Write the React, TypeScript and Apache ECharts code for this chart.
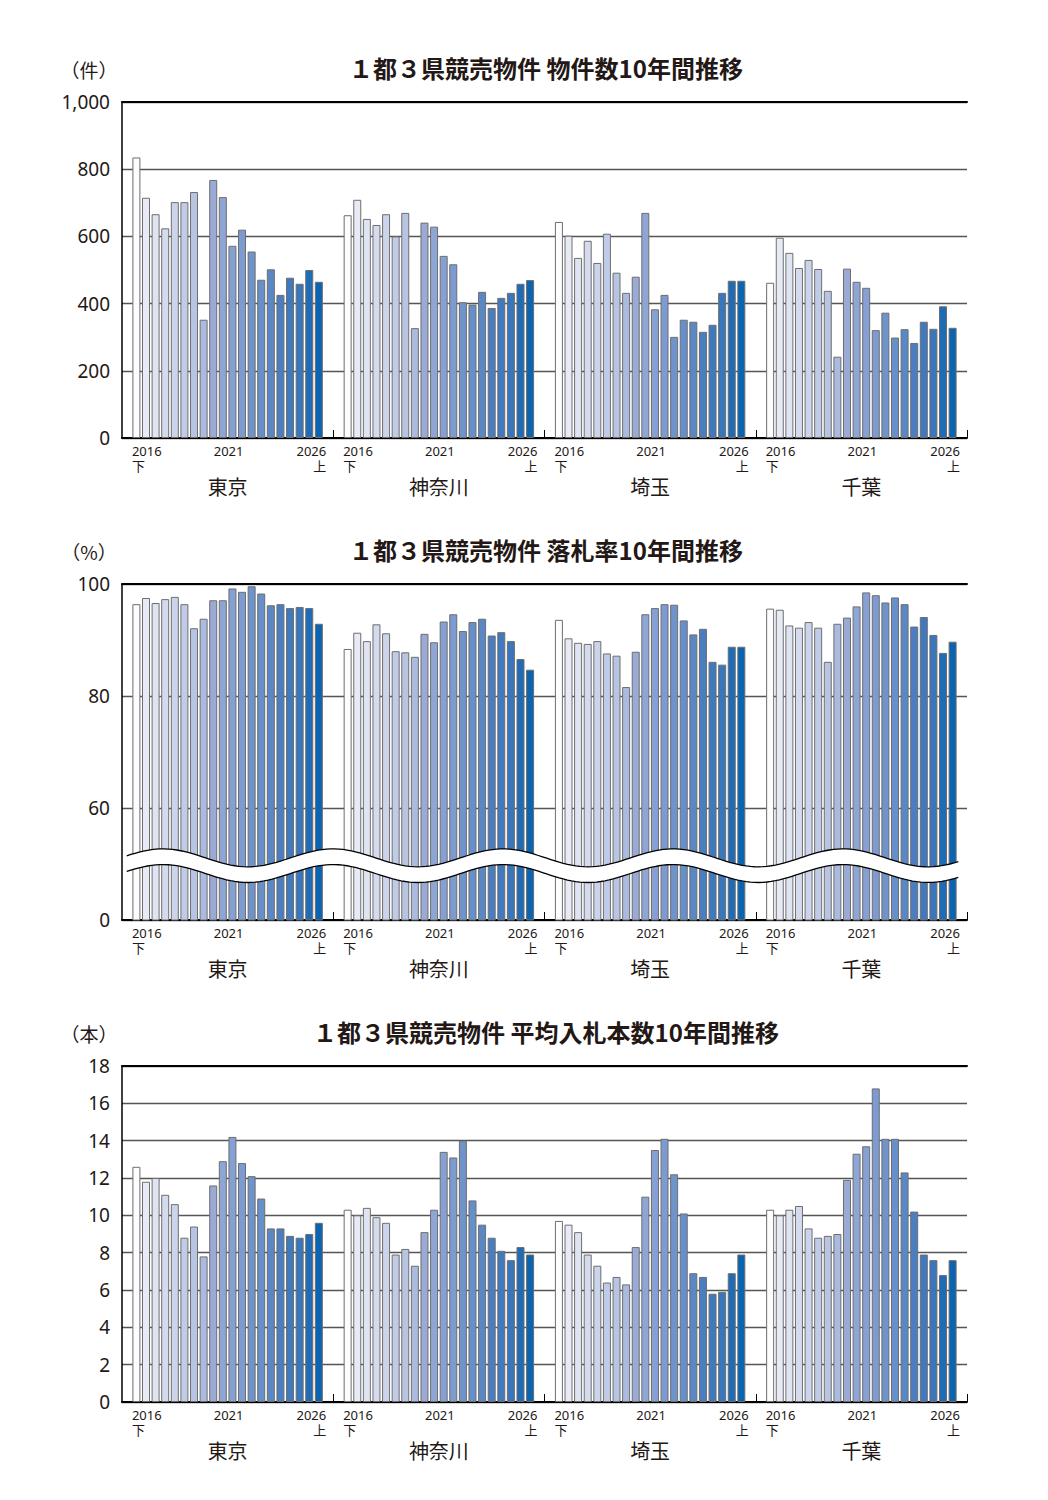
import React, { useEffect, useRef } from "react";
import * as echarts from "echarts";

const periods = [
  "2016下", "2017上", "2017下", "2018上", "2018下", "2019上", "2019下",
  "2020上", "2020下", "2021上", "2021下", "2022上", "2022下", "2023上",
  "2023下", "2024上", "2024下", "2025上", "2025下", "2026上",
];
const prefectures = ["東京", "神奈川", "埼玉", "千葉"];

// 物件数（件）
const tokyoCount = [835, 715, 666, 624, 702, 702, 732, 352, 768, 717, 572, 620, 555, 471, 502, 426, 477, 459, 500, 465];
const kanagawaCount = [663, 709, 652, 634, 666, 600, 670, 327, 641, 629, 542, 517, 404, 397, 435, 387, 417, 432, 459, 470];
const saitamaCount = [643, 602, 536, 587, 521, 608, 492, 432, 480, 670, 383, 426, 301, 352, 346, 316, 337, 432, 468, 468];
const chibaCount = [462, 596, 551, 506, 530, 503, 438, 242, 504, 465, 447, 321, 373, 299, 324, 283, 346, 325, 392, 328];

// 落札率（%）
const tokyoRate = [96.4, 97.5, 96.6, 97.3, 97.7, 96.4, 92.1, 93.8, 97.1, 97.1, 99.2, 98.6, 99.6, 98.3, 96.2, 96.4, 95.7, 95.9, 95.7, 92.9];
const kanagawaRate = [88.4, 91.3, 89.8, 92.8, 91.2, 88.0, 87.8, 87.0, 91.1, 89.6, 93.3, 94.6, 91.6, 93.2, 93.8, 90.8, 91.4, 89.8, 86.6, 84.7];
const saitamaRate = [93.6, 90.3, 89.5, 89.3, 89.8, 87.6, 87.2, 81.6, 87.9, 94.6, 95.7, 96.4, 96.3, 93.5, 91.0, 92.0, 86.1, 85.6, 88.8, 88.8];
const chibaRate = [95.6, 95.4, 92.6, 92.2, 93.2, 92.2, 86.1, 92.9, 94.0, 96.0, 98.5, 98.0, 96.7, 97.6, 96.4, 92.4, 94.1, 90.9, 87.7, 89.7];

// 平均入札本数（本）
const tokyoBids = [12.6, 11.8, 12.0, 11.1, 10.6, 8.8, 9.4, 7.8, 11.6, 12.9, 14.2, 12.8, 12.1, 10.9, 9.3, 9.3, 8.9, 8.8, 9.0, 9.6];
const kanagawaBids = [10.3, 10.0, 10.4, 9.9, 9.6, 7.9, 8.2, 7.3, 9.1, 10.3, 13.4, 13.1, 14.0, 10.8, 9.5, 8.8, 8.1, 7.6, 8.3, 7.9];
const saitamaBids = [9.7, 9.5, 9.1, 7.9, 7.3, 6.4, 6.7, 6.3, 8.3, 11.0, 13.5, 14.1, 12.2, 10.1, 6.9, 6.7, 5.8, 5.9, 6.9, 7.9];
const chibaBids = [10.3, 10.0, 10.3, 10.5, 9.3, 8.8, 8.9, 9.0, 11.9, 13.3, 13.7, 16.8, 14.1, 14.1, 12.3, 10.2, 7.9, 7.6, 6.8, 7.6];

// year tick labels under each prefecture group
const yearLabels = ["2016\n下", "2021", "2026\n上"];
const yearLabelAlign = ["l", "c", "r"];
const yearLabelSlot = [2.7, 11.1, 19.6];

const barColors = [
  "#fdfcfe", "#e8ebf6", "#dfe4f2", "#d4dbee", "#cbd4eb", "#c0cce7", "#b7c5e3",
  "#aabbdf", "#9aaad5", "#8ea6d6", "#86a0d3", "#7d9bd0", "#6f93cb", "#6590c9",
  "#5a88c5", "#4a7ec0", "#4079bd", "#3a76bb", "#1f6bb5", "#0b64b0",
];

const charts = [
  {
    title: "１都３県競売物件 物件数10年間推移",
    unit: "（件）",
    groups: [tokyoCount, kanagawaCount, saitamaCount, chibaCount],
    min: 0, max: 1000, interval: 200,
    top: 102,
  },
  {
    title: "１都３県競売物件 落札率10年間推移",
    unit: "（%）",
    groups: [tokyoRate, kanagawaRate, saitamaRate, chibaRate],
    min: 40, max: 100, interval: 20,
    top: 584,
  },
  {
    title: "１都３県競売物件 平均入札本数10年間推移",
    unit: "（本）",
    groups: [tokyoBids, kanagawaBids, saitamaBids, chibaBids],
    min: 0, max: 18, interval: 2,
    top: 1066,
  },
];

const SLOTS = 22; // 20 bars + one empty slot each side
const TOTAL = SLOTS * prefectures.length;
const TEXT = "#231815";
const FONT = "'Noto Sans', 'Noto Sans CJK JP', sans-serif";

const App: React.FC = () => {
  const chartRef = useRef<HTMLDivElement>(null);

  useEffect(() => {
    document.body.style.margin = "0";
    if (!chartRef.current) return;
    const chart = echarts.init(chartRef.current, undefined, { renderer: "svg" });

    const slotNames = Array.from({ length: TOTAL }, (_, i) => {
      const k = (i % SLOTS) - 1;
      return k >= 0 && k < periods.length
        ? prefectures[Math.floor(i / SLOTS)] + periods[k]
        : "gap" + i;
    });

    const yearMap = new Map<string, string>();
    const yearValues: number[] = [];
    prefectures.forEach((_, g) => {
      yearLabelSlot.forEach((s, j) => {
        const v = g * SLOTS + s;
        yearValues.push(v);
        const a = yearLabelAlign[j];
        yearMap.set(
          v.toFixed(2),
          yearLabels[j].split("\n").map((t) => `{${a}|${t}}`).join("\n")
        );
      });
    });

    const grids: any[] = [];
    const xAxes: any[] = [];
    const yAxes: any[] = [];
    const series: any[] = [];
    const titles: any[] = [];

    charts.forEach((c, i) => {
      grids.push({ left: 122, right: 81, top: c.top, height: 336 });
      titles.push({
        text: c.title,
        left: 546,
        top: c.top - 48,
        textAlign: "center",
        padding: 0,
        textStyle: {
          fontSize: 24,
          lineHeight: 26,
          fontWeight: "bold",
          color: TEXT,
          fontFamily: "'Noto Sans CJK JP', sans-serif",
        },
      });
      titles.push({
        text: c.unit,
        left: 89,
        top: c.top - 44,
        textAlign: "center",
        padding: 0,
        textStyle: {
          fontSize: 19,
          lineHeight: 22,
          fontWeight: "normal",
          color: TEXT,
          fontFamily: "'Noto Sans CJK JP', sans-serif",
        },
      });

      // bars
      xAxes.push({
        type: "category",
        gridIndex: i,
        data: slotNames,
        axisLine: { lineStyle: { color: "#000", width: 2 } },
        axisTick: { show: false },
        axisLabel: { show: false },
      });
      // year labels
      xAxes.push({
        type: "value",
        gridIndex: i,
        min: 0,
        max: TOTAL,
        position: "bottom",
        axisLine: { show: false },
        axisTick: { show: false },
        splitLine: { show: false },
        axisLabel: {
          customValues: yearValues,
          margin: 5,
          formatter: (v: number) => yearMap.get(v.toFixed(2)) || "",
          rich: {
            l: { width: 32, align: "left", fontSize: 13, lineHeight: 15, color: TEXT, fontFamily: FONT },
            c: { width: 32, align: "center", fontSize: 13, lineHeight: 15, color: TEXT, fontFamily: FONT },
            r: { width: 32, align: "right", fontSize: 13, lineHeight: 15, color: TEXT, fontFamily: FONT },
          },
        },
      });
      // prefecture names and group ticks
      xAxes.push({
        type: "value",
        gridIndex: i,
        min: 0,
        max: TOTAL,
        position: "bottom",
        axisLine: { show: false },
        splitLine: { show: false },
        axisTick: {
          show: true,
          inside: true,
          length: 8,
          customValues: prefectures.map((_, g) => (g + 1) * SLOTS),
          lineStyle: { color: "#000", width: 1 },
        },
        axisLabel: {
          customValues: prefectures.map((_, g) => g * SLOTS + SLOTS / 2),
          margin: 38,
          fontSize: 20,
          lineHeight: 20,
          color: TEXT,
          fontFamily: "'Noto Sans CJK JP', sans-serif",
          formatter: (v: number) => prefectures[Math.round((v - SLOTS / 2) / SLOTS)] || "",
        },
      });
      // top frame line
      xAxes.push({
        type: "value",
        gridIndex: i,
        min: 0,
        max: TOTAL,
        position: "top",
        axisLine: { show: true, lineStyle: { color: "#000", width: 2 } },
        axisTick: { show: false },
        axisLabel: { show: false },
        splitLine: { show: false },
      });

      yAxes.push({
        type: "value",
        gridIndex: i,
        min: c.min,
        max: c.max,
        interval: c.interval,
        axisLine: { show: true, lineStyle: { color: "#000", width: 1.5 } },
        axisTick: { show: false },
        splitLine: { lineStyle: { color: "#555", width: 1.3 } },
        axisLabel: {
          fontSize: 19,
          color: TEXT,
          margin: 12,
          fontFamily: FONT,
          formatter: (v: number) =>
            i === 1 && v === c.min ? "0" : v.toLocaleString("en-US"),
        },
      });

      const data = Array.from({ length: TOTAL }, (_, s) => {
        const g = Math.floor(s / SLOTS);
        const k = (s % SLOTS) - 1;
        if (k < 0 || k >= periods.length) return "-";
        return {
          value: c.groups[g][k],
          itemStyle: { color: barColors[k] },
        };
      });

      series.push({
        type: "bar",
        xAxisIndex: i * 4,
        yAxisIndex: i,
        data,
        barWidth: 8,
        clip: true,
        itemStyle: { borderColor: "#6e6e6e", borderWidth: 1 },
      });
    });

    // wavy break band on the 落札率 chart
    series.push({
      type: "custom",
      xAxisIndex: 4,
      yAxisIndex: 1,
      silent: true,
      clip: false,
      z: 10,
      data: [[0, 50]],
      encode: { x: 0, y: 1 },
      renderItem: (params: any, api: any) => {
        const cs = params.coordSys;
        const x0 = cs.x + 4.7;
        const x1 = cs.x + cs.width - 8.7;
        const yTop = api.coord([0, 51.1])[1];
        const yBot = api.coord([0, 48.3])[1];
        const amp = api.coord([0, 40])[1] - api.coord([0, 41.6])[1];
        const peak = cs.x + 41;
        const period = 170;
        const n = 200;
        const top: number[][] = [];
        const bot: number[][] = [];
        for (let j = 0; j <= n; j++) {
          const x = x0 + ((x1 - x0) * j) / n;
          const d = -amp * Math.cos((2 * Math.PI * (x - peak)) / period);
          top.push([x, yTop + d]);
          bot.push([x, yBot + d]);
        }
        return {
          type: "group",
          children: [
            {
              type: "polygon",
              shape: { points: top.concat(bot.slice().reverse()) },
              style: { fill: "#fff", stroke: "none" },
            },
            {
              type: "polyline",
              shape: { points: top },
              style: { fill: "none", stroke: "#000", lineWidth: 1.3 },
            },
            {
              type: "polyline",
              shape: { points: bot },
              style: { fill: "none", stroke: "#000", lineWidth: 1.3 },
            },
          ],
        };
      },
    });

    chart.setOption({
      animation: false,
      textStyle: { fontFamily: FONT },
      title: titles,
      grid: grids,
      xAxis: xAxes,
      yAxis: yAxes,
      series,
    } as any);

    return () => {
      chart.dispose();
    };
  }, []);

  return <div ref={chartRef} style={{ width: "1048px", height: "1500px" }} />;
};

export default App;
